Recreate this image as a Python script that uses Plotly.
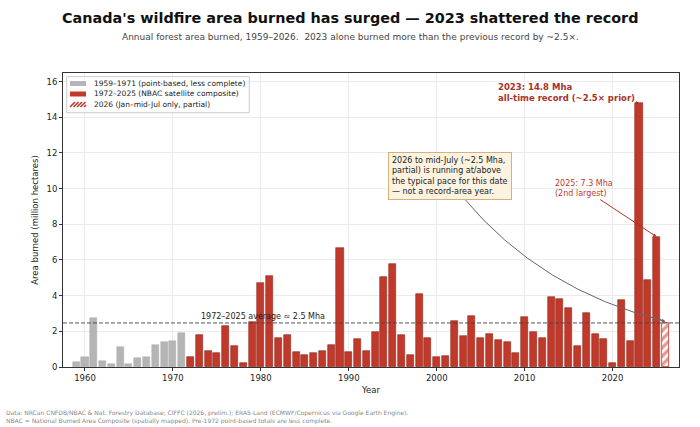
import plotly.graph_objects as go

# Annual forest area burned in Canada (million hectares)
early_years = list(range(1959, 1972))
early_burned = [0.27, 0.56, 2.77, 0.32, 0.15, 1.10, 0.19, 0.49, 0.58, 1.25, 1.40, 1.45, 1.91]

nbac_years = list(range(1972, 2026))
nbac_burned = [0.58, 1.82, 0.88, 0.77, 2.29, 1.16, 0.23, 2.50, 4.71, 5.10,
               1.64, 1.78, 0.84, 0.69, 0.79, 0.88, 1.21, 6.67, 0.84, 1.55,
               0.88, 1.94, 5.03, 5.76, 1.78, 0.69, 4.11, 1.64, 0.58, 0.62,
               2.57, 1.74, 2.84, 1.61, 1.85, 1.51, 1.38, 0.77, 2.80, 1.94,
               1.61, 3.94, 3.83, 3.33, 1.18, 3.01, 1.85, 1.59, 0.21, 3.78,
               1.44, 14.8, 4.90, 7.30]

partial_years = [2026]
partial_burned = [2.45]

avg_1972_2025 = 2.47

legend_labels = ['1959–1971 (point-based, less complete)',
                 '1972–2025 (NBAC satellite composite)',
                 '2026 (Jan–mid-Jul only, partial)']

RED = '#c0392b'
GRAY = '#b5b5b5'
FONT = 'DejaVu Sans'

# plot area in pixels (for placing things outside / legend)
L, T, W, H = 63, 73, 616, 294
def px(x):
    return (x - L) / W
def py(y):
    return (T + H - y) / H

fig = go.Figure()

fig.add_trace(go.Bar(x=early_years, y=early_burned, width=0.8, name=legend_labels[0],
                     marker=dict(color=GRAY, line=dict(color='#a8a8a8', width=0.5))))
fig.add_trace(go.Bar(x=nbac_years, y=nbac_burned, width=0.8, name=legend_labels[1],
                     marker=dict(color=RED, line=dict(color='#8e2a1f', width=0.6))))
fig.add_trace(go.Bar(x=partial_years, y=partial_burned, width=0.8, name=legend_labels[2],
                     marker=dict(color='white',
                                 pattern=dict(shape='/', fgcolor=RED, bgcolor='white',
                                              size=6, solidity=0.55),
                                 line=dict(color=RED, width=0.8))))

# average line
fig.add_shape(type='line', xref='paper', x0=0, x1=1, y0=avg_1972_2025, y1=avg_1972_2025,
              line=dict(color='#444444', width=0.9, dash='4px,2px'))
fig.add_annotation(x=1973, y=avg_1972_2025, text='1972–2025 average ≈ 2.5 Mha',
                   showarrow=False, xanchor='left', yanchor='bottom',
                   font=dict(size=8, color='#222222', family=FONT))

# 2023 record
i23 = nbac_years.index(2023)
fig.add_annotation(x=2023, y=nbac_burned[i23], ax=2014.7, ay=15.4, axref='x', ayref='y',
                   text='<b>2023: 14.8 Mha<br>all-time record (~2.5× prior)</b>',
                   align='left', showarrow=True, arrowhead=2, arrowsize=0.6,
                   arrowwidth=1, arrowcolor='#a93226',
                   font=dict(size=8.5, color='#a93226', family=FONT))

# 2025 second largest
i25 = nbac_years.index(2025)
fig.add_annotation(x=2025, y=nbac_burned[i25], ax=2016.7, ay=10.0, axref='x', ayref='y',
                   text='2025: 7.3 Mha<br>(2nd largest)', align='left',
                   showarrow=True, arrowhead=2, arrowsize=0.7, arrowwidth=1,
                   arrowcolor='#b03226',
                   font=dict(size=8, color=RED, family=FONT))

# 2026 partial note with curved connector
fig.add_annotation(x=2001.5, y=10.69, xref='x', yref='y',
                   text='2026 to mid-July (~2.5 Mha,<br>partial) is running at/above<br>'
                        'the typical pace for this date<br>— not a record-area year.',
                   align='left', showarrow=False,
                   bgcolor='#fdf3e1', bordercolor='#d8b07a', borderwidth=1, borderpad=3,
                   font=dict(size=8, color='#222222', family=FONT))
fig.add_shape(type='path', xref='x', yref='y',
              path='M 2003.0,9.51 Q 2011.8,4.29 2025.9,2.58',
              line=dict(color='#666666', width=1))
fig.add_annotation(x=partial_years[0], y=partial_burned[0] + 0.1, ax=-10, ay=-3,
                   text='', showarrow=True, arrowhead=2, arrowsize=0.7,
                   arrowwidth=1, arrowcolor='#666666')

# legend drawn by hand (plotly's legend rows are too tall for this size)
fig.add_shape(type='rect', xref='paper', yref='paper',
              x0=px(66.7), x1=px(249.3), y0=py(112.7), y1=py(76.7),
              fillcolor='rgba(255,255,255,0.85)', line=dict(color='#cccccc', width=1))
rows = [83.5, 94.0, 104.5]
for k, (lab, yc) in enumerate(zip(legend_labels, rows)):
    if k < 2:
        fig.add_shape(type='rect', xref='paper', yref='paper',
                      x0=px(70), x1=px(86), y0=py(yc + 2.5), y1=py(yc - 2.5),
                      fillcolor=[GRAY, RED][k], line=dict(width=0))
    else:
        for s in range(5):
            xs = 70 + s * 3.5
            fig.add_shape(type='line', xref='paper', yref='paper',
                          x0=px(xs), x1=px(min(xs + 5, 86)), y0=py(yc + 2.5),
                          y1=py(yc + 2.5 - (min(xs + 5, 86) - xs)),
                          line=dict(color=RED, width=1.6))
    fig.add_annotation(xref='paper', yref='paper', x=px(91.5), y=py(yc), text=lab,
                       showarrow=False, xanchor='left', yanchor='middle',
                       font=dict(size=7.5, color='#222222', family=FONT))

# titles and footer
fig.add_annotation(xref='paper', yref='paper', x=px(350), y=py(18.5),
                   xanchor='center', yanchor='middle',
                   text="<b>Canada's wildfire area burned has surged — 2023 shattered the record</b>",
                   showarrow=False, font=dict(size=14.4, color='#111111', family=FONT))
fig.add_annotation(xref='paper', yref='paper', x=px(350), y=py(37.3),
                   xanchor='center', yanchor='middle',
                   text='Annual forest area burned, 1959–2026.  2023 alone burned more than '
                        'the previous record by ~2.5×.',
                   showarrow=False, font=dict(size=9, color='#444444', family=FONT))
fig.add_annotation(xref='paper', yref='paper', x=px(4), y=py(407),
                   xanchor='left', yanchor='top', align='left',
                   text='Data: NRCan CNFDB/NBAC & Nat. Forestry Database; CIFFC (2026, prelim.); '
                        'ERA5-Land (ECMWF/Copernicus via Google Earth Engine).<br>'
                        'NBAC = National Burned Area Composite (spatially mapped). '
                        'Pre-1972 point-based totals are less complete.',
                   showarrow=False, font=dict(size=6, color='#888888', family=FONT))

axis_common = dict(showgrid=True, gridcolor='#ebebeb', gridwidth=1, ticks='outside',
                   ticklen=3, tickcolor='#333333', showline=True, linecolor='#333333',
                   linewidth=1, mirror=True, zeroline=False,
                   tickfont=dict(size=8.5, color='#222222', family=FONT),
                   title_font=dict(size=8.5, color='#222222', family=FONT))

fig.update_layout(
    width=700, height=427,
    margin=dict(l=L, r=700 - L - W, t=T, b=427 - T - H, autoexpand=False),
    paper_bgcolor='white', plot_bgcolor='white',
    barmode='overlay', bargap=0,
    font=dict(family=FONT),
    showlegend=False,
    xaxis=dict(range=[1957.5, 2027.55], tickvals=[1960, 1970, 1980, 1990, 2000, 2010, 2020],
               title=dict(text='Year', standoff=4), **axis_common),
    yaxis=dict(range=[0, 16.48], dtick=2,
               title=dict(text='Area burned (million hectares)', standoff=6), **axis_common),
)

# drop the browser's default page margin so the figure sits at the window's corner
fig.write_html("out.html", config={'displayModeBar': False},
               post_script="document.body.style.margin='0';")
